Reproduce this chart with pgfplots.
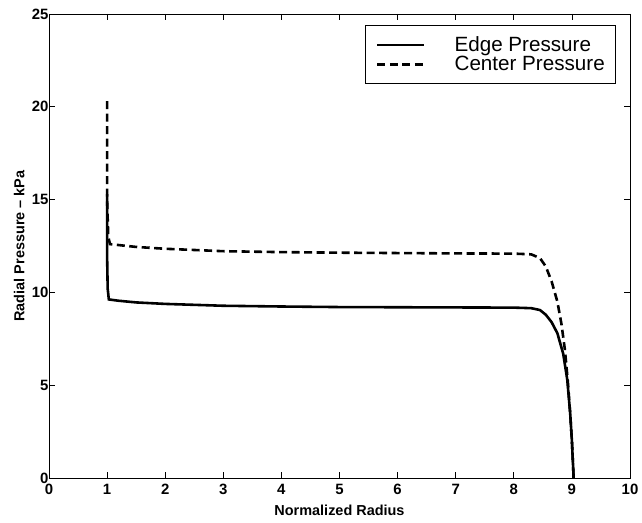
\documentclass[border=0pt]{standalone}
\usepackage{fontspec}
\setmainfont{Liberation Sans}
\usepackage{pgfplots}
\pgfplotsset{compat=1.18}

\begin{document}
\begin{tikzpicture}
\begin{axis}[
    scale only axis,
    width=581bp, height=464bp,
    xmin=0, xmax=10, ymin=0, ymax=25,
    xtick={0,1,...,10}, ytick={0,5,...,25},
    tick align=inside,
    major tick length=6bp,
    tick style={black, line width=0.8pt},
    axis line style={line width=1pt},
    /pgf/number format/assume math mode=true,
    tick label style={font=\fontsize{15}{17}\selectfont\bfseries},
    xticklabel style={yshift=-3bp},
    yticklabel style={xshift=3bp},
    xlabel={\bfseries Normalized Radius},
    ylabel={\bfseries Radial Pressure -- kPa},
    label style={font=\fontsize{14.5}{17}\selectfont},
    xlabel style={at={(axis description cs:0.5,-0.05)}, anchor=north},
    ylabel style={at={(axis description cs:-0.036,0.5)}, anchor=south},
    legend style={at={(0.976,0.976)}, anchor=north east, draw=black,
        font=\fontsize{20.7}{21}\selectfont, cells={anchor=west},
        nodes={inner sep=0pt},
        inner xsep=11bp, inner ysep=11.5bp, row sep=3bp, line width=0.6pt,
        /tikz/every odd column/.append style={column sep=29bp}},
    legend image code/.code={\draw[#1] (0bp,0bp) -- (47bp,0bp);},
]
\addplot[black, line width=2.6pt] coordinates {
(1.00,15.3) (1.00,12.0) (1.01,10.2) (1.03,9.62) (1.2,9.55) (1.5,9.46)
(2,9.38) (3,9.28) (4,9.24) (5,9.21) (6,9.20) (7,9.19) (8,9.18)
(8.3,9.15) (8.45,9.05) (8.55,8.8) (8.65,8.4) (8.75,7.8) (8.85,6.7)
(8.92,5.3) (8.97,3.5) (9.00,2.0) (9.03,0)};
\addlegendentry{Edge Pressure}
\addplot[black, line width=2.6pt, dash pattern=on 8bp off 4.5bp] coordinates {
(1.00,20.3) (1.00,15.0) (1.02,13.0) (1.05,12.6) (1.5,12.45) (2,12.35)
(3,12.22) (4,12.17) (5,12.14) (6,12.12) (7,12.10) (8,12.09) (8.3,12.05)
(8.45,11.85) (8.55,11.4) (8.65,10.6) (8.75,9.5) (8.82,8.3) (8.88,6.9)
(8.93,5.2) (8.97,3.5) (9.00,2.0) (9.03,0)};
\addlegendentry{Center Pressure}
\end{axis}
\path (current axis.south west) ++(-49bp,-45bp) rectangle ++(642bp,523bp);
\end{tikzpicture}
\end{document}
